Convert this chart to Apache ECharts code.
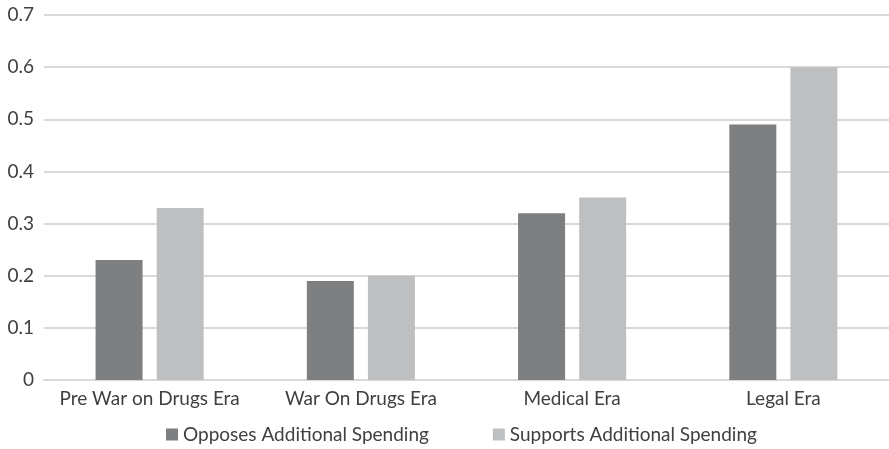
<!DOCTYPE html>
<html><head><meta charset="utf-8">
<script src="https://cdn.jsdelivr.net/npm/echarts@6/dist/echarts.min.js"></script>
<style>html,body{margin:0;padding:0;background:#fff}#c{width:889px;height:449px}</style>
</head><body><div id="c"></div>
<script>
const categories = ["Pre War on Drugs Era", "War On Drugs Era", "Medical Era", "Legal Era"];
const opposes = [0.23, 0.19, 0.32, 0.49];
const supports = [0.33, 0.20, 0.35, 0.60];
const seriesNames = ["Opposes Additional Spending", "Supports Additional Spending"];
const FONT = "Lato";
const chart = echarts.init(document.getElementById('c'));
chart.setOption({
  animation: false,
  textStyle: {fontFamily: FONT},
  grid: {left: 44, right: 0, top: 15, bottom: 69, containLabel: false},
  legend: {
    bottom: 0, left: 161, itemWidth: 12, itemHeight: 12, itemGap: 64,
    icon: 'rect',
    textStyle: {fontFamily: FONT, fontSize: 19, color: '#404040'},
    data: seriesNames
  },
  xAxis: {
    type: 'category', data: categories,
    axisLine: {lineStyle: {color: '#d9d9d9', width: 2}},
    axisTick: {show: false},
    axisLabel: {fontFamily: FONT, fontSize: 19, color: '#404040', margin: 9, interval: 0}
  },
  yAxis: {
    type: 'value', min: 0, max: 0.7, interval: 0.1,
    axisLine: {show: false}, axisTick: {show: false},
    axisLabel: {fontFamily: FONT, fontSize: 19, color: '#404040', margin: 10,
      formatter: v => v === 0 ? '0' : v.toFixed(1)},
    splitLine: {lineStyle: {color: '#d9d9d9', width: 2}}
  },
  series: [
    {name: seriesNames[0], type: 'bar', data: opposes, barWidth: 47, barGap: '30%',
     itemStyle: {color: '#7e7f81'}},
    {name: seriesNames[1], type: 'bar', data: supports, barWidth: 47,
     itemStyle: {color: '#bebfc1'}}
  ]
});
</script></body></html>
